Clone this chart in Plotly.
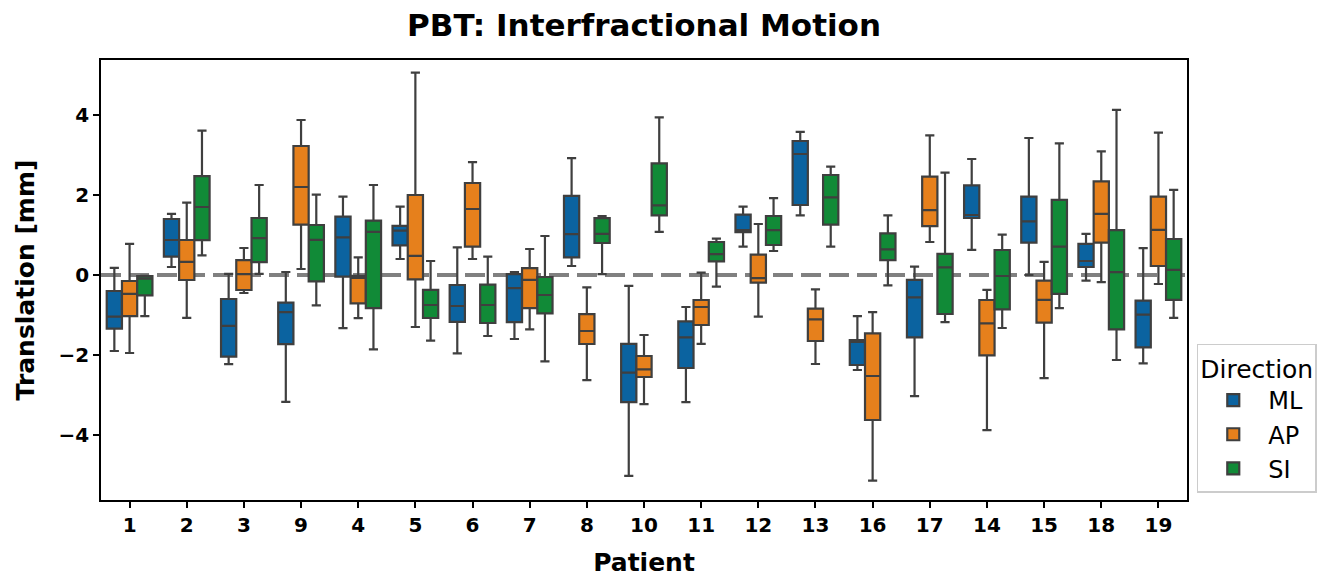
import plotly.graph_objects as go

patients = ["1", "2", "3", "9", "4", "5", "6", "7", "8", "10", "11", "12", "13", "16", "17", "14", "15", "18", "19"]
directions = ["ML", "AP", "SI"]
colors = ["#0b63a0", "#e6801c", "#118a37"]

# columns: lower whisker, q1, median, q3, upper whisker (mm)
ml_low = [-1.90, 0.20, -2.23, -3.17, -1.33, 0.40, -1.96, -1.60, 0.225, -5.02, -3.18, 0.71, 1.49, -2.375, -3.03, 0.63, 0.0, -0.14, -2.21]
ml_q1 = [-1.34, 0.46, -2.04, -1.73, -0.04, 0.74, -1.17, -1.18, 0.44, -3.18, -2.325, 1.07, 1.75, -2.25, -1.56, 1.425, 0.81, 0.20, -1.81]
ml_med = [-1.04, 0.875, -1.27, -0.93, 0.94, 1.11, -0.775, -0.33, 1.02, -2.44, -1.56, 1.125, 3.025, -1.67, -0.56, 1.50, 1.34, 0.35, -0.99]
ml_q3 = [-0.40, 1.40, -0.60, -0.69, 1.46, 1.23, -0.25, 0.02, 1.98, -1.72, -1.16, 1.51, 3.35, -1.63, -0.12, 2.24, 1.96, 0.78, -0.64]
ml_high = [0.18, 1.53, 0.03, 0.075, 1.96, 1.71, 0.69, 0.075, 2.92, -0.27, -0.80, 1.71, 3.58, -1.03, 0.21, 2.90, 3.425, 1.03, 0.67]

ap_low = [-1.95, -1.07, -0.45, 0.15, -1.08, -1.30, 0.40, -1.36, -2.63, -3.23, -1.72, -1.04, -2.225, -5.14, 0.825, -3.88, -2.58, -0.18, -0.225]
ap_q1 = [-1.03, -0.125, -0.375, 1.26, -0.71, -0.11, 0.71, -0.83, -1.725, -2.55, -1.25, -0.19, -1.65, -3.625, 1.22, -2.01, -1.19, 0.81, 0.225]
ap_med = [-0.47, 0.33, 0.02, 2.20, -0.07, 0.48, 1.65, -0.12, -1.40, -2.36, -0.80, -0.08, -1.11, -2.525, 1.62, -1.21, -0.62, 1.53, 1.13]
ap_q3 = [-0.15, 0.875, 0.37, 3.225, -0.02, 2.00, 2.30, 0.17, -0.98, -2.025, -0.625, 0.51, -0.84, -1.46, 2.46, -0.625, -0.14, 2.34, 1.96]
ap_high = [0.78, 1.81, 0.675, 3.875, 0.44, 5.06, 2.82, 0.65, -0.31, -1.50, 0.06, 1.275, -0.36, -0.93, 3.49, -0.37, 0.33, 3.09, 3.56]

si_low = [-1.03, 0.49, 0.03, -0.76, -1.86, -1.64, -1.525, -2.16, 0.02, 1.08, -0.29, 0.60, 0.71, -0.26, -1.18, -1.325, -0.83, -2.125, -1.07]
si_q1 = [-0.51, 0.87, 0.32, -0.16, -0.83, -1.075, -1.20, -0.96, 0.80, 1.49, 0.34, 0.75, 1.26, 0.37, -0.975, -0.86, -0.47, -1.36, -0.62]
si_med = [-0.09, 1.70, 0.92, 0.88, 1.08, -0.75, -0.75, -0.50, 1.03, 1.74, 0.52, 1.12, 1.94, 0.64, 0.19, -0.025, 0.71, 0.07, 0.13]
si_q3 = [-0.03, 2.47, 1.425, 1.25, 1.36, -0.37, -0.24, -0.05, 1.42, 2.79, 0.825, 1.475, 2.50, 1.04, 0.53, 0.625, 1.88, 1.12, 0.90]
si_high = [-0.02, 3.61, 2.25, 2.01, 2.25, 0.35, 0.46, 0.975, 1.475, 3.94, 0.91, 1.92, 2.71, 1.49, 2.56, 1.01, 3.29, 4.13, 2.13]

stats = {
    "ML": (ml_low, ml_q1, ml_med, ml_q3, ml_high),
    "AP": (ap_low, ap_q1, ap_med, ap_q3, ap_high),
    "SI": (si_low, si_q1, si_med, si_q3, si_high),
}

FONT = "DejaVu Sans"
fig = go.Figure()
for d, c in zip(directions, colors):
    lo, q1, med, q3, hi = stats[d]
    fig.add_trace(go.Box(
        name=d, x=patients, lowerfence=lo, q1=q1, median=med, q3=q3, upperfence=hi,
        fillcolor=c, line=dict(color="#3f3f3f", width=2.2), whiskerwidth=0.6,
        boxpoints=False, offsetgroup=d,
    ))

fig.add_shape(type="line", xref="paper", x0=0, x1=1, yref="y", y0=0, y1=0,
              line=dict(color="#808080", width=4, dash="20px,8px"), layer="below")

fig.update_layout(
    width=1325, height=569,
    margin=dict(l=93, r=146, t=52, b=77, autoexpand=False),
    paper_bgcolor="white", plot_bgcolor="white",
    boxmode="group", boxgap=0.2, boxgroupgap=0,
    font=dict(family=FONT, color="black"),
    title=dict(text="<b>PBT: Interfractional Motion</b>", x=0.5, xref="paper", xanchor="center",
               y=0.97, yref="container", yanchor="middle", font=dict(size=31, family=FONT)),
    showlegend=True,
    legend=dict(title=dict(text="Direction", font=dict(size=25, family=FONT)),
                font=dict(size=24, family=FONT), x=1.009, xanchor="left", y=0.016, yanchor="bottom",
                bordercolor="#cccccc", borderwidth=1.5, bgcolor="white", itemwidth=60,
                tracegroupgap=4),
)
fig.update_xaxes(
    type="category", categoryorder="array", categoryarray=patients, range=[-0.5, 18.5],
    showline=True, linecolor="black", linewidth=1.5, mirror=True,
    ticks="outside", ticklen=6, tickwidth=1.5, tickcolor="black",
    showgrid=False, zeroline=False,
    title=dict(text="<b>Patient</b>", font=dict(size=25, family=FONT), standoff=19),
)
fig.update_yaxes(
    range=[-5.625, 5.375], tickvals=[-4, -2, 0, 2, 4],
    showline=True, linecolor="black", linewidth=1.5, mirror=True,
    ticks="outside", ticklen=6, tickwidth=1.5, tickcolor="black",
    showgrid=False, zeroline=False,
    title=dict(text="<b>Translation [mm]</b>", font=dict(size=25, family=FONT), standoff=17),
)
fig.for_each_xaxis(lambda a: a.update(tickfont=dict(size=20, family=FONT, weight="bold")))
fig.for_each_yaxis(lambda a: a.update(tickfont=dict(size=20, family=FONT, weight="bold")))

fig.write_html("out.html")
